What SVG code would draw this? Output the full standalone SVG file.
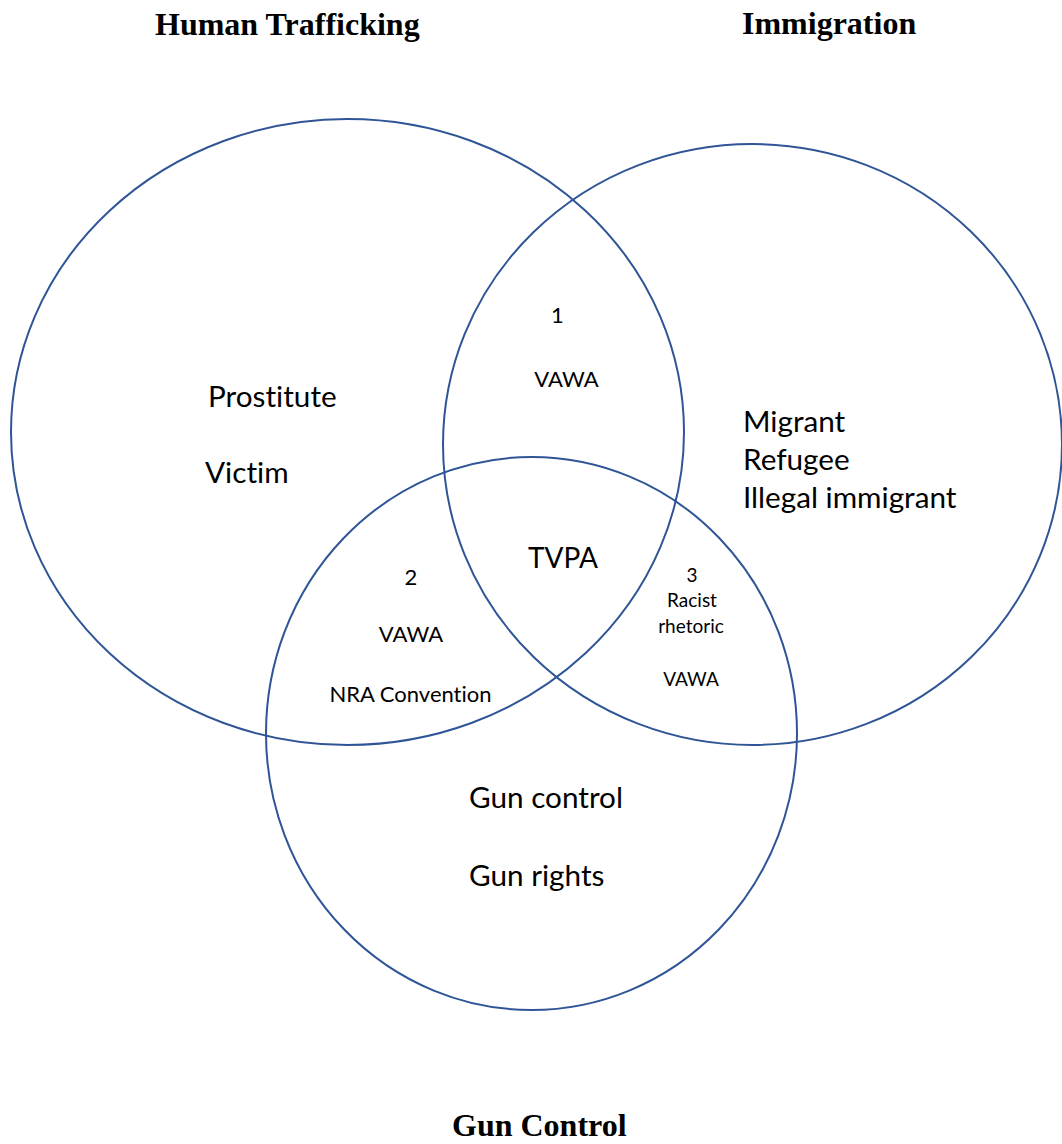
<svg xmlns="http://www.w3.org/2000/svg" width="1062" height="1144" viewBox="0 0 1062 1144">
<style>
.set{fill:none;stroke:#2F5597;stroke-width:2}
.title{font-family:"Liberation Serif","Times New Roman",serif;font-weight:bold;font-size:32px;fill:#000}
.lbl{font-family:Lato,"Open Sans",sans-serif;fill:#000;font-variant-ligatures:none;font-feature-settings:"liga" 0,"dlig" 0}
.big{font-size:29.7px}
.tv{font-size:28px}
.mid{font-size:22px}
.sm{font-size:19px}
.c{text-anchor:middle}
</style>
<rect width="1062" height="1144" fill="#fff"/>
<g id="set-human-trafficking">
<ellipse class="set" cx="347.5" cy="432" rx="336.5" ry="313"/>
<text class="title" x="155" y="35">Human Trafficking</text>
<text class="lbl big" x="208" y="407">Prostitute</text>
<text class="lbl big" x="205" y="483">Victim</text>
</g>
<g id="set-immigration">
<ellipse class="set" cx="752.5" cy="444.5" rx="309.5" ry="300.5"/>
<text class="title" x="742" y="34">Immigration</text>
<text class="lbl big" x="743" y="432">Migrant</text>
<text class="lbl big" x="743" y="470">Refugee</text>
<text class="lbl big" x="743" y="508">Illegal immigrant</text>
</g>
<g id="set-gun-control">
<ellipse class="set" cx="531.5" cy="733.5" rx="265.5" ry="276.5"/>
<text class="title" x="452" y="1136">Gun Control</text>
<text class="lbl big" x="469" y="808">Gun control</text>
<text class="lbl big" x="469" y="886">Gun rights</text>
</g>
<g id="overlap-1">
<text class="lbl mid c" x="557.5" y="323">1</text>
<text class="lbl mid c" x="566.5" y="387">VAWA</text>
</g>
<g id="overlap-center">
<text class="lbl tv" x="528" y="568">TVPA</text>
</g>
<g id="overlap-2">
<text class="lbl mid c" x="411" y="585">2</text>
<text class="lbl mid c" x="411" y="642">VAWA</text>
<text class="lbl mid c" x="410.5" y="702">NRA Convention</text>
</g>
<g id="overlap-3">
<text class="lbl sm c" x="692" y="582">3</text>
<text class="lbl sm c" x="692" y="607">Racist</text>
<text class="lbl sm c" x="691" y="633">rhetoric</text>
<text class="lbl sm c" x="691" y="686">VAWA</text>
</g>
<g id="connectors"/>
</svg>
